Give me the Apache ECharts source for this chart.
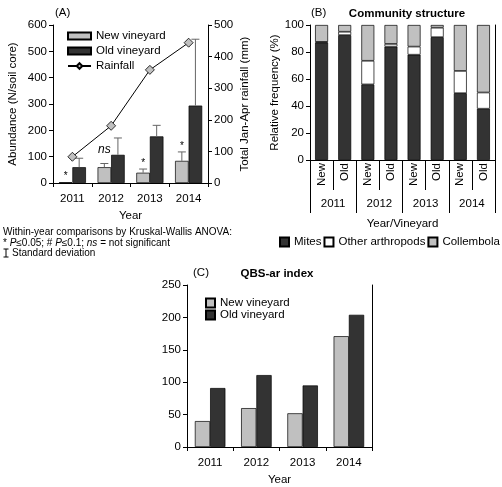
<!DOCTYPE html>
<html>
<head>
<meta charset="utf-8">
<script src="https://cdn.jsdelivr.net/npm/echarts@6/dist/echarts.min.js"></script>
<style>html,body{margin:0;padding:0;background:#fff}#c{width:502px;height:487px}</style>
</head>
<body>
<div id="c"></div>
<script>
// ---- Panel A data ----
const years = ['2011', '2012', '2013', '2014'];
const abundNew = [3, 60, 39, 84];
const abundNewSD = [0, 14, 14, 34];
const abundOld = [60, 107, 177, 294];
const abundOldSD = [34, 64, 42, 252];
const rainfall = [83, 181, 358, 444];
const sigLabels = ['*', 'ns', '*', '*'];
const abundTicks = [0, 100, 200, 300, 400, 500, 600];
const rainTicks = [0, 100, 200, 300, 400, 500];

// ---- Panel B data ----
const vineyardLabels = ['New', 'Old', 'New', 'Old', 'New', 'Old', 'New', 'Old'];
const mites = [87, 92.5, 56, 84, 78, 91, 49.5, 38];
const otherArthropods = [0.5, 2.5, 17.5, 2, 6, 7, 16.5, 12];
const collembola = [12.5, 5, 26.5, 14, 16, 2, 34, 50];

// ---- Panel C data ----
const qbsNew = [40, 60, 52, 171];
const qbsOld = [91, 111, 95, 204];

const FONT = '"Liberation Sans", Arimo, Arial, sans-serif';
const DARK = '#333333';
const LIGHT = '#c0c0c0';
const FS = 11.5;

function errRender(side, sds) {
  return function (params, api) {
    const i = api.value(0);
    const m = api.value(1);
    const sd = sds[params.dataIndex];
    const c = api.coord([i, m]);
    const w = api.size([1, 0])[0];
    const x = c[0] + side * w * 0.175;
    const children = [];
    let topY = c[1];
    if (sd > 0) {
      const t = api.coord([i, m + sd]);
      topY = t[1];
      children.push({type: 'line', shape: {x1: x, y1: c[1], x2: x, y2: t[1]}, style: {stroke: '#666', lineWidth: 1}});
      children.push({type: 'line', shape: {x1: x - 4, y1: t[1], x2: x + 4, y2: t[1]}, style: {stroke: '#666', lineWidth: 1}});
    }
    if (side < 0) {
      const s = sigLabels[params.dataIndex];
      const isNs = s === 'ns';
      children.push({type: 'text', style: {
        text: s, x: x, y: topY - (isNs ? 8 : 1), align: 'center', verticalAlign: 'bottom',
        fontSize: isNs ? 12 : 10, fontStyle: isNs ? 'italic' : 'normal', fontFamily: FONT, fill: '#000'
      }});
    }
    return {type: 'group', children: children};
  };
}

const axisLineBlack = {show: true, lineStyle: {color: '#000', width: 1}};
const tickBlack = {show: true, length: 4, lineStyle: {color: '#000', width: 1}};
const lab = {color: '#000', fontSize: FS, fontFamily: FONT};
const nameStyle = {fontSize: FS, color: '#000', fontFamily: FONT};

const option = {
  animation: false,
  textStyle: {fontFamily: FONT, color: '#000'},
  grid: [
    {left: 53, top: 25, width: 155, height: 158},
    {left: 310, top: 25, width: 185, height: 135},
    {left: 187, top: 285, width: 185, height: 162}
  ],
  legend: [
    {
      orient: 'vertical', left: 67, top: 30, padding: 0, itemWidth: 23, itemHeight: 7, itemGap: 3, itemTextGap: 3,
      textStyle: {fontSize: FS, color: '#000', fontFamily: FONT},
      data: [{name: 'New vineyard', icon: 'rect'}, {name: 'Old vineyard', icon: 'rect'}, {name: 'Rainfall'}]
    },
    {
      orient: 'horizontal', left: 279, top: 236, padding: 0, width: 230, itemWidth: 9, itemHeight: 9, itemGap: 2, itemTextGap: 2, icon: 'rect',
      textStyle: {fontSize: FS, color: '#000', fontFamily: FONT},
      data: ['Mites', 'Other arthropods', 'Collembola']
    },
    {
      orient: 'vertical', left: 205, top: 297, padding: 0, itemWidth: 9, itemHeight: 9, itemGap: 0, itemTextGap: 2, icon: 'rect',
      textStyle: {fontSize: FS, color: '#000', fontFamily: FONT},
      data: ['New vineyard ', 'Old vineyard ']
    }
  ],
  xAxis: [
    {gridIndex: 0, type: 'category', data: years, axisLine: axisLineBlack, axisTick: tickBlack,
     axisLabel: Object.assign({margin: 10}, lab),
     name: 'Year', nameLocation: 'middle', nameGap: 27, nameTextStyle: nameStyle},
    {gridIndex: 1, type: 'category', data: vineyardLabels, axisLine: axisLineBlack,
     axisTick: {show: true, length: 30, interval: 0, lineStyle: {color: '#000'}},
     axisLabel: Object.assign({margin: 3, rotate: 90, interval: 0}, lab)},
    {gridIndex: 1, type: 'category', data: years, position: 'bottom', axisLine: axisLineBlack,
     axisTick: {show: true, length: 53, interval: 0, lineStyle: {color: '#000'}},
     axisLabel: Object.assign({margin: 38, interval: 0}, lab),
     name: 'Year/Vineyard', nameLocation: 'middle', nameGap: 58, nameTextStyle: nameStyle},
    {gridIndex: 2, type: 'category', data: years, axisLine: axisLineBlack, axisTick: tickBlack,
     axisLabel: Object.assign({margin: 10}, lab),
     name: 'Year', nameLocation: 'middle', nameGap: 27, nameTextStyle: nameStyle}
  ],
  yAxis: [
    {gridIndex: 0, type: 'value', min: abundTicks[0], max: abundTicks[abundTicks.length - 1], interval: 100,
     axisLine: axisLineBlack, axisTick: tickBlack, splitLine: {show: false}, axisLabel: Object.assign({margin: 6}, lab),
     name: 'Abundance (N/soil core)', nameLocation: 'middle', nameGap: 34, nameTextStyle: nameStyle},
    {gridIndex: 0, type: 'value', position: 'right', min: rainTicks[0], max: rainTicks[rainTicks.length - 1], interval: 100,
     axisLine: axisLineBlack, axisTick: tickBlack, splitLine: {show: false}, axisLabel: Object.assign({margin: 6}, lab),
     name: 'Total Jan-Apr rainfall (mm)', nameLocation: 'middle', nameGap: 31, nameRotate: 90,
     nameTextStyle: nameStyle},
    {gridIndex: 1, type: 'value', min: 0, max: 100, interval: 20,
     axisLine: axisLineBlack, axisTick: tickBlack, splitLine: {show: false}, axisLabel: Object.assign({margin: 6}, lab),
     name: 'Relative frequency (%)', nameLocation: 'middle', nameGap: 29, nameTextStyle: nameStyle},
    {gridIndex: 1, type: 'value', position: 'right', min: 0, max: 100, axisLine: axisLineBlack,
     axisTick: {show: false}, axisLabel: {show: false}, splitLine: {show: false}},
    {gridIndex: 2, type: 'value', min: 0, max: 250, interval: 50,
     axisLine: axisLineBlack, axisTick: tickBlack, splitLine: {show: false}, axisLabel: Object.assign({margin: 6}, lab)},
    {gridIndex: 2, type: 'value', position: 'right', min: 0, max: 250, axisLine: axisLineBlack,
     axisTick: {show: false}, axisLabel: {show: false}, splitLine: {show: false}}
  ],
  series: [
    {name: 'New vineyard', type: 'bar', xAxisIndex: 0, yAxisIndex: 0, data: abundNew, barWidth: '35%', barGap: '0%',
     itemStyle: {color: LIGHT, borderColor: '#000', borderWidth: 0.7}},
    {name: 'Old vineyard', type: 'bar', xAxisIndex: 0, yAxisIndex: 0, data: abundOld, barWidth: '35%', barGap: '0%',
     itemStyle: {color: DARK, borderColor: '#000', borderWidth: 0.7}},
    {type: 'custom', xAxisIndex: 0, yAxisIndex: 0, renderItem: errRender(-1, abundNewSD),
     data: abundNew.map((v, i) => [i, v]), z: 5, silent: true},
    {type: 'custom', xAxisIndex: 0, yAxisIndex: 0, renderItem: errRender(1, abundOldSD),
     data: abundOld.map((v, i) => [i, v]), z: 5, silent: true},
    {name: 'Rainfall', type: 'line', xAxisIndex: 0, yAxisIndex: 1, data: rainfall, symbol: 'diamond', symbolSize: 9,
     showAllSymbol: true, z: 10,
     lineStyle: {color: '#000', width: 1}, itemStyle: {color: LIGHT, borderColor: '#000', borderWidth: 0.8}},

    {name: 'Mites', type: 'bar', stack: 'c', xAxisIndex: 1, yAxisIndex: 2, data: mites, barWidth: '56%',
     itemStyle: {color: DARK, borderColor: '#000', borderWidth: 0.7}},
    {name: 'Other arthropods', type: 'bar', stack: 'c', xAxisIndex: 1, yAxisIndex: 2, data: otherArthropods, barWidth: '56%',
     itemStyle: {color: '#ffffff', borderColor: '#000', borderWidth: 0.7}},
    {name: 'Collembola', type: 'bar', stack: 'c', xAxisIndex: 1, yAxisIndex: 2, data: collembola, barWidth: '56%',
     itemStyle: {color: LIGHT, borderColor: '#000', borderWidth: 0.7}},

    {name: 'New vineyard ', type: 'bar', xAxisIndex: 3, yAxisIndex: 4, data: qbsNew, barWidth: '33%', barGap: '0%',
     itemStyle: {color: LIGHT, borderColor: '#000', borderWidth: 0.7}},
    {name: 'Old vineyard ', type: 'bar', xAxisIndex: 3, yAxisIndex: 4, data: qbsOld, barWidth: '33%', barGap: '0%',
     itemStyle: {color: DARK, borderColor: '#000', borderWidth: 0.7}}
  ],
  graphic: [
    {type: 'text', left: 55, top: 7, style: {text: '(A)', fontSize: FS, fontFamily: FONT, fill: '#000'}},
    {type: 'text', left: 311, top: 7, style: {text: '(B)', fontSize: FS, fontFamily: FONT, fill: '#000'}},
    {type: 'text', x: 407, y: 14, style: {text: 'Community structure', fontSize: FS, fontWeight: 'bold', fontFamily: FONT,
      fill: '#000', align: 'center', verticalAlign: 'middle'}},
    {type: 'text', left: 193, top: 267, style: {text: '(C)', fontSize: FS, fontFamily: FONT, fill: '#000'}},
    {type: 'text', x: 277, y: 274, style: {text: 'QBS-ar index', fontSize: FS, fontWeight: 'bold', fontFamily: FONT,
      fill: '#000', align: 'center', verticalAlign: 'middle'}},
    {type: 'text', x: 3, y: 232, style: {text: 'Within-year comparisons by Kruskal-Wallis ANOVA:', fontSize: 10,
      fontFamily: FONT, fill: '#000', verticalAlign: 'middle'}},
    {type: 'text', x: 3, y: 243, style: {text: '* {i|P}\u22640.05; # {i|P}\u22640.1; {i|ns} = not significant', fontSize: 10,
      fontFamily: FONT, fill: '#000', verticalAlign: 'middle',
      rich: {i: {fontStyle: 'italic', fontSize: 10, fontFamily: FONT}}}},
    {type: 'group', children: [
      {type: 'line', shape: {x1: 6, y1: 249, x2: 6, y2: 257}, style: {stroke: '#000', lineWidth: 1}},
      {type: 'line', shape: {x1: 3.5, y1: 249, x2: 8.5, y2: 249}, style: {stroke: '#000', lineWidth: 1}},
      {type: 'line', shape: {x1: 3.5, y1: 257, x2: 8.5, y2: 257}, style: {stroke: '#000', lineWidth: 1}}
    ]},
    {type: 'text', x: 12, y: 253, style: {text: 'Standard deviation', fontSize: 10, fontFamily: FONT, fill: '#000',
      verticalAlign: 'middle'}}
  ]
};

const chart = echarts.init(document.getElementById('c'), null, {renderer: 'canvas'});
chart.setOption(option);
</script>
</body>
</html>
